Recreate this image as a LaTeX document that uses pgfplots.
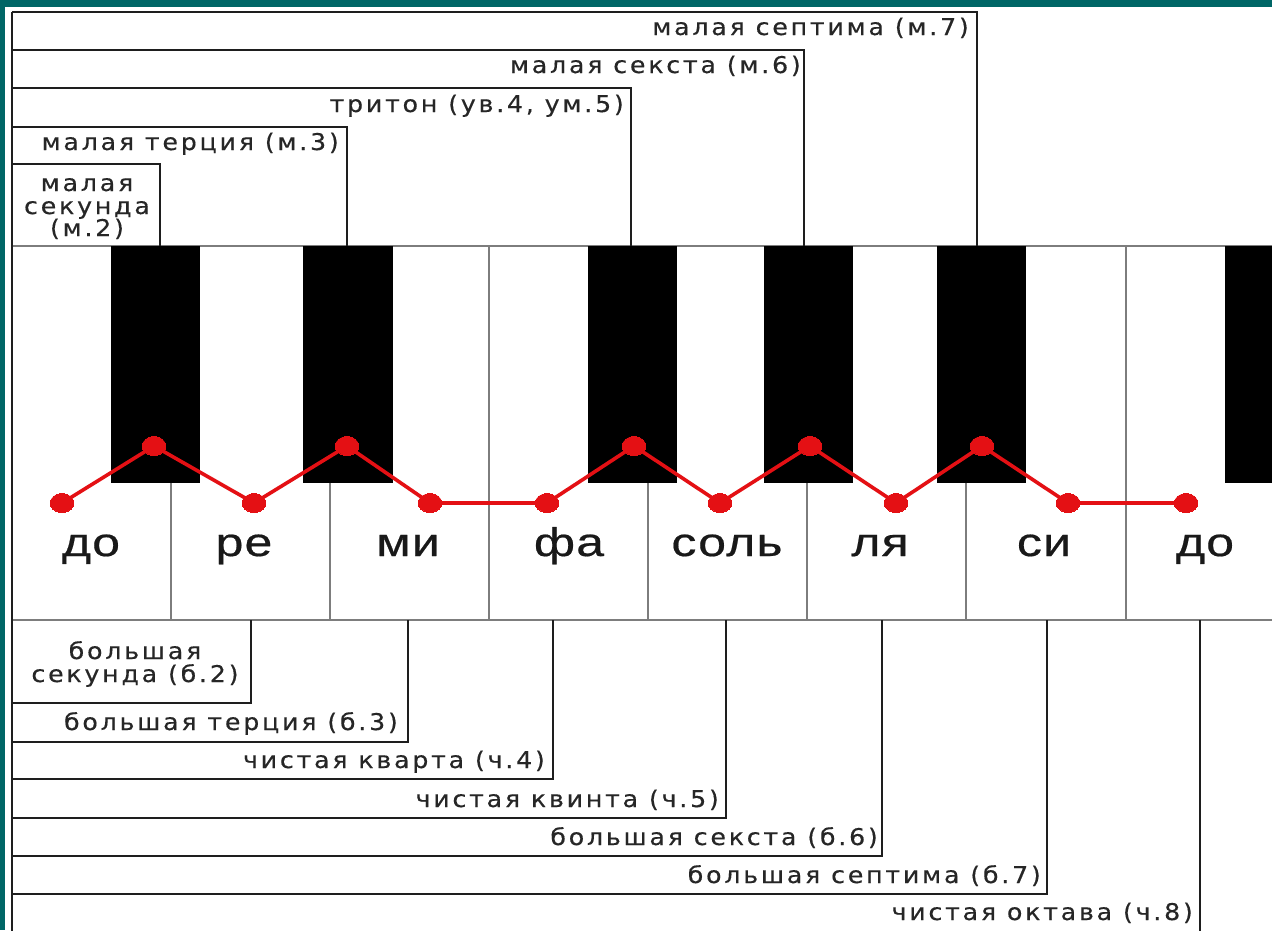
\documentclass[border=0pt]{standalone}
\usepackage{pgfplots}
\pgfplotsset{compat=1.18}
\usepackage{fontspec}
\setmainfont{Liberation Sans}
\newfontfamily\labfont[FakeStretch=1.1,LetterSpace=12,FakeBold=0.4]{DejaVu Sans}
\newfontfamily\notefont[FakeStretch=1.25,LetterSpace=3,FakeBold=0.5]{Liberation Sans}
\definecolor{tealbg}{RGB}{0,102,102}
\definecolor{redl}{RGB}{228,16,20}
\definecolor{boxc}{RGB}{30,30,30}
\definecolor{keyc}{RGB}{125,125,125}
\tikzset{
  boxl/.style={draw=boxc,line width=2.6pt},
  keyl/.style={draw=keyc,line width=2pt},
  lab/.style={font={\labfont\fontsize{23}{25}\selectfont}, inner sep=0pt, text=black!85},
  note/.style={font={\notefont\fontsize{40}{44}\selectfont}, inner sep=0pt, text=black!90},
}
\begin{document}
\begin{tikzpicture}
\begin{axis}[width=1272pt,height=930pt,scale only axis,hide axis,
  xmin=0,xmax=1272,ymin=0,ymax=930,y dir=reverse]
% background
\addplot[fill=tealbg,draw=none] coordinates {(0,0)(1272,0)(1272,930)(0,930)};
\addplot[fill=white,draw=none] coordinates {(5,7)(1272,7)(1272,930)(5,930)};
% keyboard outline
\addplot[keyl] coordinates {(12,246)(1272,246)};
\addplot[keyl] coordinates {(12,620)(1272,620)};
% white key dividers
\addplot[keyl] coordinates {(171,483)(171,620)};
\addplot[keyl] coordinates {(330,483)(330,620)};
\addplot[keyl] coordinates {(489,246)(489,620)};
\addplot[keyl] coordinates {(648,483)(648,620)};
\addplot[keyl] coordinates {(807,483)(807,620)};
\addplot[keyl] coordinates {(966,483)(966,620)};
\addplot[keyl] coordinates {(1126,246)(1126,620)};
% black keys
\addplot[fill=black,draw=none] coordinates {(111,246)(200,246)(200,483)(111,483)};
\addplot[fill=black,draw=none] coordinates {(303,246)(393,246)(393,483)(303,483)};
\addplot[fill=black,draw=none] coordinates {(588,246)(677,246)(677,483)(588,483)};
\addplot[fill=black,draw=none] coordinates {(764,246)(853,246)(853,483)(764,483)};
\addplot[fill=black,draw=none] coordinates {(937,246)(1026,246)(1026,483)(937,483)};
\addplot[fill=black,draw=none] coordinates {(1225,246)(1280,246)(1280,483)(1225,483)};
% left border
\addplot[boxl] coordinates {(12,12)(12,935)};
% upper interval boxes
\addplot[boxl] coordinates {(12,12)(977,12)(977,246)};
\addplot[boxl] coordinates {(12,50)(804,50)(804,246)};
\addplot[boxl] coordinates {(12,88)(631,88)(631,246)};
\addplot[boxl] coordinates {(12,127)(347,127)(347,246)};
\addplot[boxl] coordinates {(12,164)(160,164)(160,246)};
% lower interval boxes
\addplot[boxl] coordinates {(12,703)(251,703)(251,620)};
\addplot[boxl] coordinates {(12,742)(408,742)(408,620)};
\addplot[boxl] coordinates {(12,779)(553,779)(553,620)};
\addplot[boxl] coordinates {(12,818)(726,818)(726,620)};
\addplot[boxl] coordinates {(12,856)(882,856)(882,620)};
\addplot[boxl] coordinates {(12,894)(1047,894)(1047,620)};
\addplot[boxl] coordinates {(1200,620)(1200,935)};
% red zigzag
\addplot[draw=redl, line width=3.6pt, mark=*, mark size=9.5pt,
  mark options={fill=redl, draw=redl, xscale=1.25, line width=0pt}]
  coordinates {(62,503)(154,446)(254,503)(347,446)(430,503)(547,503)(634,446)
               (720,503)(810,446)(896,503)(982,446)(1068,503)(1186,503)};
% upper labels
\node[lab,anchor=base east] at (axis cs:969,35) {малая септима (м.7)};
\node[lab,anchor=base east] at (axis cs:801,73) {малая секста (м.6)};
\node[lab,anchor=base east] at (axis cs:624,112) {тритон (ув.4, ум.5)};
\node[lab,anchor=base east] at (axis cs:339,150) {малая терция (м.3)};
\node[lab,anchor=base] at (axis cs:87,191) {малая};
\node[lab,anchor=base] at (axis cs:87,214) {секунда};
\node[lab,anchor=base] at (axis cs:87,236) {(м.2)};
% lower labels
\node[lab,anchor=base] at (axis cs:135,659) {большая};
\node[lab,anchor=base] at (axis cs:135,682) {секунда (б.2)};
\node[lab,anchor=base east] at (axis cs:398,730) {большая терция (б.3)};
\node[lab,anchor=base east] at (axis cs:545,768) {чистая кварта (ч.4)};
\node[lab,anchor=base east] at (axis cs:719,807) {чистая квинта (ч.5)};
\node[lab,anchor=base east] at (axis cs:878,845) {большая секста (б.6)};
\node[lab,anchor=base east] at (axis cs:1041,883) {большая септима (б.7)};
\node[lab,anchor=base east] at (axis cs:1193,920) {чистая октава (ч.8)};
% note names
\node[note,anchor=base] at (axis cs:91,556) {до};
\node[note,anchor=base] at (axis cs:244,556) {ре};
\node[note,anchor=base] at (axis cs:408,556) {ми};
\node[note,anchor=base] at (axis cs:569,556) {фа};
\node[note,anchor=base] at (axis cs:727,556) {соль};
\node[note,anchor=base] at (axis cs:880,556) {ля};
\node[note,anchor=base] at (axis cs:1044,556) {си};
\node[note,anchor=base] at (axis cs:1205,556) {до};
\end{axis}
\end{tikzpicture}
\end{document}
